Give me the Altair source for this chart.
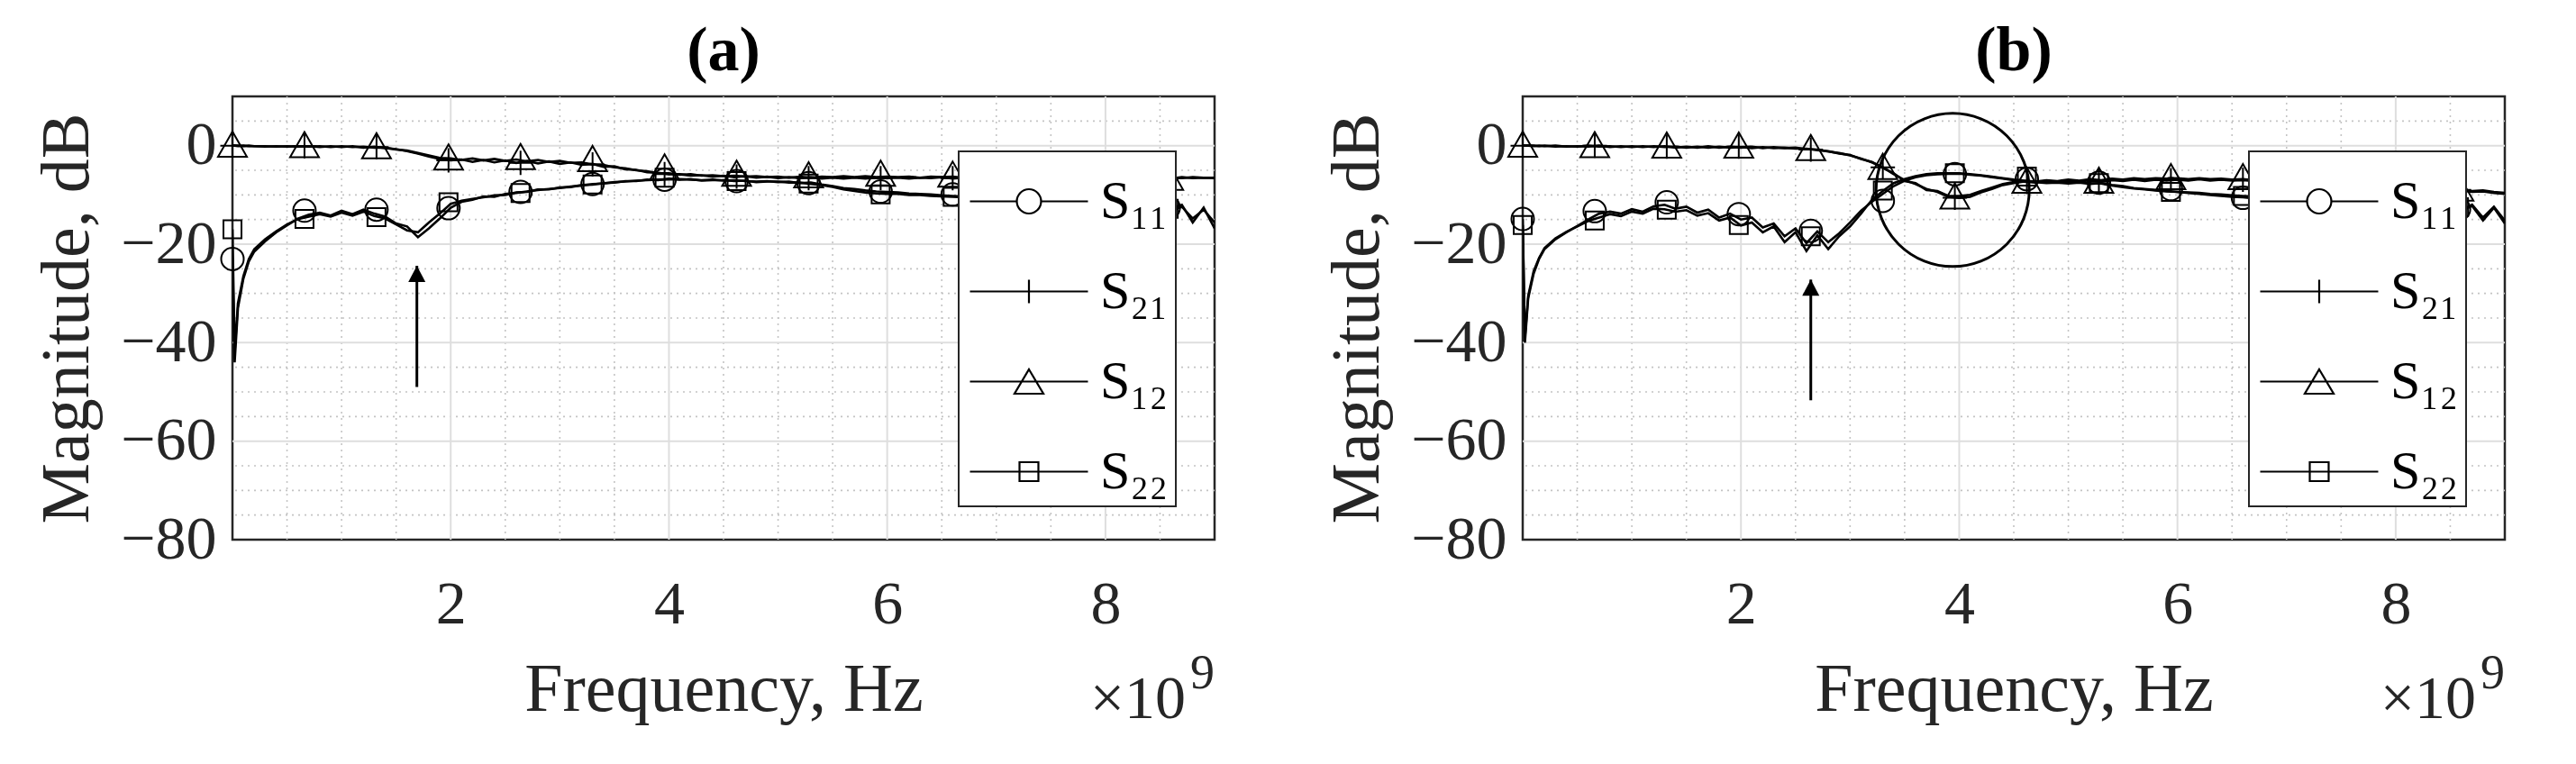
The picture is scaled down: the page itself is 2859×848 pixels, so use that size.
import altair as alt
import pandas as pd

FONT = "Liberation Serif"
INK = "#262626"
SERIES = ["S\u2081\u2081", "S\u2082\u2081", "S\u2081\u2082", "S\u2082\u2082"]
PANEL_TITLES = ["(a)", "(b)"]
X_TITLE = "Frequency, Hz"
Y_TITLE = "Magnitude, dB"
EXP_BASE = "\u00d710"
EXP_POWER = "9"

X_MAJOR = [2, 4, 6, 8]
Y_MAJOR = [-80, -60, -40, -20, 0]
X_GRID_MAJOR = [2, 4, 6, 8]
Y_GRID_MAJOR = [-60, -40, -20, 0]
X_GRID_MINOR = [0.5, 1, 1.5, 2.5, 3, 3.5, 4.5, 5, 5.5, 6.5, 7, 7.5, 8.5]
Y_GRID_MINOR = [-75, -70, -65, -55, -50, -45, -35, -30, -25, -15, -10, -5, 5]

# frequency grid (x 1e9 Hz)
FREQ = [
    0, 0.02, 0.05, 0.1, 0.15,
    0.2, 0.3, 0.4, 0.5, 0.6, 0.7, 0.8, 0.9,
    1.0, 1.1, 1.2, 1.3, 1.4, 1.5, 1.6, 1.7, 1.8, 1.9,
    2.0, 2.1, 2.2, 2.3, 2.4, 2.5, 2.6, 2.7, 2.8, 2.9,
    3.0, 3.1, 3.2, 3.3, 3.4, 3.5, 3.6, 3.7, 3.8, 3.9,
    4.0, 4.1, 4.2, 4.3, 4.4, 4.5, 4.6, 4.7, 4.8, 4.9,
    5.0, 5.1, 5.2, 5.3, 5.4, 5.5, 5.6, 5.7, 5.8, 5.9,
    6.0, 6.1, 6.2, 6.3, 6.4, 6.5, 6.6, 6.7, 6.8, 6.9,
    7.0, 7.1, 7.2, 7.3, 7.4, 7.5, 7.6, 7.7, 7.8, 7.9,
    8.0, 8.1, 8.2, 8.3, 8.4, 8.5, 8.6, 8.7, 8.8, 8.9,
    9.0]

# ---------- panel (a) ----------
A_S11 = [
    -23.0, -44.0, -33.0, -27.0, -23.5,
    -21.5, -19.4, -17.6, -16.2, -14.8, -14.0, -13.6, -14.2,
    -13.2, -13.9, -13.0, -13.8, -14.4, -15.8, -16.4, -18.6, -16.8, -14.8,
    -12.6, -11.4, -11.0, -10.3, -10.4, -9.8, -9.6, -9.3, -9.0, -8.8,
    -8.6, -8.3, -8.1, -7.8, -7.7, -7.4, -7.3, -7.1, -7.0, -6.9,
    -6.8, -6.8, -6.9, -7.0, -6.9, -7.1, -7.0, -7.2, -7.3, -7.2,
    -7.4, -7.3, -7.6, -7.5, -7.9, -8.2, -8.6, -8.8, -9.1, -9.3,
    -9.4, -9.5, -9.7, -9.8, -9.9, -10.1, -10.2, -10.3, -10.5, -10.6,
    -10.8, -10.9, -11.0, -11.2, -11.1, -11.4, -11.5, -11.6, -11.8, -11.9,
    -12.0, -12.2, -12.1, -12.4, -12.6, -12.3, -12.8, -12.0, -15.6, -12.6,
    -16.8]
A_S21 = [
    0.0, 0.0, -0.1, 0.0, -0.1,
    -0.1, -0.1, -0.2, -0.1, -0.2, -0.1, -0.3, -0.1,
    -0.3, -0.1, -0.4, -0.2, -0.5, -0.7, -1.1, -1.6, -2.2, -2.7,
    -3.0, -2.8, -3.3, -2.9, -3.4, -3.0, -3.5, -3.1, -3.6, -3.2,
    -3.7, -3.4, -3.9, -3.7, -4.3, -4.2, -4.8, -4.9, -5.4, -5.5,
    -5.8, -5.8, -6.1, -6.0, -6.3, -6.1, -6.4, -6.2, -6.5, -6.3,
    -6.6, -6.4, -6.6, -6.4, -6.7, -6.5, -6.7, -6.5, -6.7, -6.5,
    -6.6, -6.5, -6.7, -6.5, -6.6, -6.4, -6.7, -6.5, -6.6, -6.5,
    -6.7, -6.5, -6.6, -6.4, -6.7, -6.5, -6.6, -6.5, -6.7, -6.5,
    -6.6, -6.4, -6.7, -6.5, -6.6, -6.5, -6.7, -6.4, -6.6, -6.5,
    -6.6]
A_S12 = [
    0.0, 0.0, 0.0, -0.1, 0.0,
    -0.1, -0.2, -0.1, -0.2, -0.1, -0.2, -0.1, -0.3,
    -0.1, -0.3, -0.2, -0.4, -0.4, -0.8, -1.0, -1.5, -2.0, -2.5,
    -2.6, -2.9, -2.6, -3.0, -2.7, -3.1, -2.8, -3.2, -2.9, -3.3,
    -3.1, -3.5, -3.4, -3.8, -3.9, -4.4, -4.6, -5.0, -5.2, -5.6,
    -5.6, -5.9, -5.8, -6.1, -6.0, -6.2, -6.1, -6.3, -6.2, -6.4,
    -6.3, -6.5, -6.3, -6.5, -6.3, -6.4, -6.2, -6.4, -6.2, -6.4,
    -6.3, -6.4, -6.3, -6.5, -6.3, -6.4, -6.3, -6.5, -6.3, -6.4,
    -6.3, -6.5, -6.4, -6.5, -6.3, -6.5, -6.4, -6.5, -6.3, -6.5,
    -6.4, -6.5, -6.3, -6.6, -6.4, -6.5, -6.4, -6.6, -6.4, -6.5,
    -6.5]
A_S22 = [
    -17.0, -42.0, -32.0, -26.5, -23.0,
    -21.0, -19.0, -17.4, -16.0, -14.9, -14.4, -13.9, -14.4,
    -13.6, -14.2, -13.4, -14.3, -14.8, -16.0, -17.2, -17.6, -15.6, -13.8,
    -11.8, -11.2, -10.8, -10.5, -10.1, -10.0, -9.5, -9.4, -8.9, -8.9,
    -8.5, -8.4, -8.0, -7.9, -7.6, -7.5, -7.2, -7.2, -6.9, -7.0,
    -6.7, -6.9, -6.8, -7.1, -7.0, -7.0, -7.2, -7.1, -7.4, -7.3,
    -7.3, -7.5, -7.5, -7.8, -8.0, -8.4, -8.9, -9.2, -9.5, -9.7,
    -9.8, -9.8, -10.0, -10.0, -10.2, -10.3, -10.4, -10.5, -10.7, -10.8,
    -10.9, -11.1, -11.2, -11.3, -11.4, -11.5, -11.7, -11.8, -11.9, -12.1,
    -12.2, -12.3, -12.5, -12.6, -12.4, -12.9, -13.2, -12.4, -14.8, -13.0,
    -15.6]

# ---------- panel (b) ----------
B_S11 = [
    -14.9, -40.0, -31.0, -26.0, -23.0,
    -21.0, -19.0, -17.6, -16.3, -15.0, -13.8, -13.4, -13.8,
    -12.9, -13.4, -12.3, -12.0, -12.8, -12.4, -13.6, -13.0, -14.6, -13.8,
    -15.0, -14.6, -16.6, -15.8, -18.4, -16.8, -19.8, -17.4, -19.6, -17.8,
    -15.6, -13.2, -11.4, -9.8, -8.2, -7.1, -6.4, -6.0, -5.8, -5.7,
    -5.7, -5.9, -6.1, -6.4, -6.7, -7.0, -7.3, -7.4, -7.6, -7.5,
    -7.7, -7.5, -7.8, -7.6, -8.0, -8.2, -8.6, -8.8, -9.0, -9.2,
    -9.4, -9.6, -9.8, -10.0, -10.2, -10.4, -10.5, -10.7, -10.8, -11.0,
    -11.1, -11.3, -11.4, -11.6, -11.7, -11.9, -12.0, -12.1, -12.3, -12.4,
    -12.5, -12.7, -12.6, -12.9, -13.0, -12.8, -13.4, -12.2, -15.2, -12.6,
    -15.8]
B_S21 = [
    0.0, 0.0, 0.0, -0.1, 0.0,
    -0.1, 0.0, -0.2, -0.1, -0.2, 0.0, -0.3, -0.1,
    -0.3, -0.1, -0.3, -0.1, -0.4, -0.2, -0.4, -0.1, -0.4, -0.2,
    -0.4, -0.2, -0.5, -0.3, -0.5, -0.4, -0.7, -0.8, -1.2, -1.5,
    -2.0, -2.6, -3.4, -4.4, -5.8, -7.0, -7.8, -8.8, -9.4, -10.4,
    -10.6, -10.4, -9.5, -8.8, -8.0, -7.6, -7.3, -7.5, -7.1, -7.4,
    -7.1, -7.3, -7.0, -7.3, -7.0, -7.2, -6.9, -7.2, -6.9, -7.1,
    -6.9, -7.1, -6.8, -7.1, -6.9, -7.1, -7.0, -7.2, -7.1, -7.3,
    -7.3, -7.5, -7.4, -7.7, -7.6, -7.9, -7.8, -8.1, -8.0, -8.3,
    -8.3, -8.6, -8.5, -8.8, -8.8, -9.1, -9.1, -9.4, -9.3, -9.6,
    -9.8]
B_S12 = [
    0.0, 0.0, 0.0, 0.0, -0.1,
    0.0, -0.2, -0.1, -0.2, 0.0, -0.2, -0.1, -0.3,
    -0.1, -0.3, -0.1, -0.3, -0.2, -0.4, -0.2, -0.4, -0.2, -0.4,
    -0.3, -0.5, -0.3, -0.5, -0.4, -0.6, -0.6, -0.9, -1.1, -1.6,
    -1.9, -2.7, -3.3, -4.5, -5.6, -7.2, -7.6, -9.0, -9.2, -10.2,
    -10.2, -10.0, -9.2, -8.5, -7.8, -7.4, -7.2, -7.3, -7.0, -7.2,
    -6.9, -7.1, -6.8, -7.0, -6.7, -6.9, -6.6, -6.8, -6.6, -6.7,
    -6.6, -6.8, -6.6, -6.8, -6.7, -6.9, -6.8, -7.0, -6.9, -7.1,
    -7.1, -7.3, -7.2, -7.5, -7.4, -7.7, -7.6, -7.9, -7.8, -8.1,
    -8.1, -8.4, -8.3, -8.6, -8.6, -8.9, -8.9, -9.2, -9.1, -9.4,
    -9.6]
B_S22 = [
    -16.1, -39.0, -30.5, -25.5, -22.8,
    -20.8, -18.8, -17.5, -16.4, -15.3, -14.6, -13.9, -14.3,
    -13.4, -13.8, -12.8, -12.9, -13.4, -13.1, -14.2, -13.7, -15.2, -14.6,
    -16.2, -15.6, -17.6, -16.4, -19.6, -17.6, -21.4, -18.2, -21.0, -18.4,
    -16.4, -13.8, -11.0, -9.2, -7.6, -6.8, -6.2, -5.8, -5.6, -5.6,
    -5.6, -5.8, -6.0, -6.3, -6.6, -6.9, -7.1, -7.3, -7.4, -7.4,
    -7.5, -7.4, -7.6, -7.7, -8.1, -8.4, -8.7, -8.9, -9.1, -9.3,
    -9.4, -9.5, -9.6, -9.8, -9.9, -10.1, -10.2, -10.3, -10.5, -10.6,
    -10.8, -10.9, -11.0, -11.2, -11.3, -11.4, -11.6, -11.7, -11.8, -12.0,
    -12.1, -12.2, -12.4, -12.5, -12.3, -12.8, -13.2, -12.0, -14.6, -12.4,
    -15.2]

# marker positions and values
MARKER_FREQ = [0, 0.66, 1.32, 1.98, 2.64, 3.30, 3.96, 4.62, 5.28, 5.94, 6.60, 7.26, 7.92, 8.58]
A_M11 = [-23.0, -13.2, -13.0, -12.7, -9.4, -7.8, -6.9, -7.2, -7.6, -9.3, -9.9, -11.3, -11.9, -12.6]
A_M21 = [0.0, -0.1, -0.3, -3.0, -3.5, -3.8, -5.8, -6.3, -6.6, -6.6, -6.6, -6.6, -6.6, -6.6]
A_M12 = [0.3, 0.2, 0.0, -2.3, -2.2, -2.6, -4.3, -5.6, -5.9, -5.6, -5.8, -6.2, -6.3, -6.4]
A_M22 = [-17.0, -14.9, -14.5, -11.5, -9.6, -7.9, -6.5, -7.2, -7.7, -9.9, -10.4, -11.5, -12.1, -12.8]
B_M11 = [-14.9, -13.3, -11.5, -13.9, -17.3, -11.2, -5.8, -6.8, -7.5, -8.8, -10.6, -11.7, -12.3, -12.9]
B_M21 = [0.0, 0.0, -0.2, -0.2, -0.8, -4.4, -10.6, -7.4, -7.3, -7.0, -6.9, -7.6, -8.1, -9.0]
B_M12 = [0.3, 0.2, 0.1, 0.1, -0.4, -4.2, -10.2, -7.0, -7.0, -6.3, -6.3, -7.2, -7.8, -8.6]
B_M22 = [-16.1, -15.2, -13.0, -16.1, -18.4, -9.1, -5.6, -6.3, -7.6, -9.4, -10.2, -11.4, -11.9, -12.5]

# annotations
ARROW_F = [1.69, 2.64]
ARROW_TAIL = [-49.0, -51.7]
ARROW_TIP = [-24.4, -27.2]
HIGHLIGHT_F = [3.94]
HIGHLIGHT_DB = [-9.0]

# marker glyphs (unit = 10 px at size 400)
MARKER_PATHS = [
    "M1.25,0 A1.25,1.25 0 1,1 -1.25,0 A1.25,1.25 0 1,1 1.25,0 Z",
    "M-1.35,0 L1.35,0 M0,-1.35 L0,1.35",
    "M0,-1.4 L1.6,1.4 L-1.6,1.4 Z",
    "M-1,-1 L1,-1 L1,1 L-1,1 Z",
]
# legend glyphs: line segment + marker (unit = 46 px at size 8464)
LEGEND_PATHS = [
    "M-0.935,0 L0.196,0 M0.782,0 L1.913,0 M0.782,0 A0.293,0.293 0 1,1 0.196,0 A0.293,0.293 0 1,1 0.782,0",
    "M-0.935,0 L1.913,0 M0.489,-0.283 L0.489,0.283",
    "M-0.935,0 L1.913,0 M0.489,-0.293 L0.837,0.293 L0.141,0.293 Z",
    "M-0.935,0 L1.913,0 M0.261,-0.228 L0.717,-0.228 L0.717,0.228 L0.261,0.228 Z",
]
ARROW_HEAD = "M0,0 L0.95,1.8 L-0.95,1.8 Z"

W, H = 1090, 492

for arr in (A_S11, A_S21, A_S12, A_S22, B_S11, B_S21, B_S12, B_S22):
    assert len(arr) == len(FREQ), len(arr)

XS = alt.Scale(domain=[0, 9], nice=False, zero=False)
YS = alt.Scale(domain=[-80, 10], nice=False, zero=False)

X_AXIS = alt.Axis(values=X_MAJOR, format="d", title=X_TITLE,
                  labelFont=FONT, labelFontSize=68, labelColor=INK, labelPadding=38,
                  titleFont=FONT, titleFontSize=76, titleFontWeight="normal",
                  titleColor=INK, titlePadding=23,
                  ticks=False, domain=False, grid=False)
Y_AXIS = alt.Axis(values=Y_MAJOR, title=Y_TITLE,
                  labelFont=FONT, labelFontSize=68, labelColor=INK, labelPadding=18,
                  titleFont=FONT, titleFontSize=76, titleFontWeight="normal",
                  titleColor=INK, titlePadding=20,
                  ticks=False, domain=False, grid=False)


def xq(field):
    return alt.X(field, type="quantitative", scale=XS, axis=X_AXIS)


def yq(field):
    return alt.Y(field, type="quantitative", scale=YS, axis=Y_AXIS)


def long_df(freqs, named):
    rows = []
    for name, vals in zip(SERIES, named):
        for f, v in zip(freqs, vals):
            rows.append({"f": f, "db": v, "series": name})
    return pd.DataFrame(rows)


def panel(idx, lines, marks, highlight):
    line_df = long_df(FREQ, lines)
    mark_df = long_df(MARKER_FREQ, marks)

    def vrules(vals, **kw):
        return alt.Chart(pd.DataFrame({"v": vals})).mark_rule(**kw).encode(x=xq("v"))

    def hrules(vals, **kw):
        return alt.Chart(pd.DataFrame({"v": vals})).mark_rule(**kw).encode(y=yq("v"))

    minor_style = dict(color="#c4c4c4", strokeWidth=1.6, strokeDash=[2, 5])
    major_style = dict(color="#dedede", strokeWidth=2)

    layers = [
        vrules(X_GRID_MINOR, **minor_style),
        hrules(Y_GRID_MINOR, **minor_style),
        vrules(X_GRID_MAJOR, **major_style),
        hrules(Y_GRID_MAJOR, **major_style),
    ]

    layers.append(
        alt.Chart(line_df).mark_line(color="black", strokeWidth=2.6, clip=True).encode(
            x=xq("f"), y=yq("db"), detail="series:N",
        )
    )
    layers.append(
        alt.Chart(mark_df).mark_point(filled=False, color="black", strokeWidth=2, size=400, opacity=1).encode(
            x=xq("f"), y=yq("db"),
            shape=alt.Shape("series:N", scale=alt.Scale(domain=SERIES, range=MARKER_PATHS), legend=None),
        )
    )
    # invisible layer that only carries the legend glyphs (line + marker)
    layers.append(
        alt.Chart(mark_df).mark_point(filled=False, color="black", strokeWidth=2.2, size=8464,
                                      opacity=0, clip=True).encode(
            x=xq("f"), y=yq("db"),
            shape=alt.Shape(
                "series:N",
                scale=alt.Scale(domain=SERIES, range=LEGEND_PATHS),
                legend=alt.Legend(
                    title=None, orient="none", legendX=806, legendY=61,
                    padding=8, rowPadding=22, symbolSize=8464, symbolOpacity=1,
                    symbolStrokeColor="black", symbolStrokeWidth=2.2,
                    symbolFillColor="transparent",
                    labelFont=FONT, labelFontSize=60, labelColor="black",
                    labelOffset=54, labelLimit=400,
                    strokeColor=INK, fillColor="white",
                ),
            ),
        )
    )

    arrow_df = pd.DataFrame({"f": [ARROW_F[idx]], "tail": [ARROW_TAIL[idx]], "tip": [ARROW_TIP[idx]]})
    layers.append(
        alt.Chart(arrow_df).mark_rule(color="black", strokeWidth=3).encode(
            x=xq("f"), y=yq("tail"), y2="tip:Q",
        )
    )
    layers.append(
        alt.Chart(arrow_df).mark_point(filled=True, color="black", size=400, opacity=1).encode(
            x=xq("f"), y=yq("tip"), shape=alt.value(ARROW_HEAD),
        )
    )
    if highlight:
        hl_df = pd.DataFrame({"f": HIGHLIGHT_F, "db": HIGHLIGHT_DB})
        layers.append(
            alt.Chart(hl_df).mark_point(shape="circle", filled=False, color="black",
                                        strokeWidth=3, size=28900, opacity=1).encode(
                x=xq("f"), y=yq("db"),
            )
        )

    layers.append(
        alt.Chart(pd.DataFrame({"t": [EXP_BASE]})).mark_text(
            font=FONT, fontSize=68, align="right", baseline="alphabetic", color=INK
        ).encode(text="t:N", x=alt.value(W - 32), y=alt.value(H + 198))
    )
    layers.append(
        alt.Chart(pd.DataFrame({"t": [EXP_POWER]})).mark_text(
            font=FONT, fontSize=54, align="left", baseline="alphabetic", color=INK
        ).encode(text="t:N", x=alt.value(W - 27), y=alt.value(H + 165))
    )

    return alt.layer(*layers).resolve_scale(shape="independent").properties(
        width=W, height=H,
        title=alt.TitleParams(text=PANEL_TITLES[idx], font=FONT, fontSize=70,
                              fontWeight="bold", anchor="middle", offset=13,
                              color="black"),
    )


pa = panel(0, [A_S11, A_S21, A_S12, A_S22], [A_M11, A_M21, A_M12, A_M22], False)
pb = panel(1, [B_S11, B_S21, B_S12, B_S22], [B_M11, B_M21, B_M12, B_M22], True)

chart = alt.hconcat(pa, pb, spacing=116).properties(
    padding={"left": 27, "top": 12, "right": 5, "bottom": 5}
).configure(background="white", font=FONT).configure_view(
    stroke=INK, strokeWidth=2.5
).configure_legend(strokeWidth=2)

chart.save("out.html", embed_options={"renderer": "svg", "actions": False})
